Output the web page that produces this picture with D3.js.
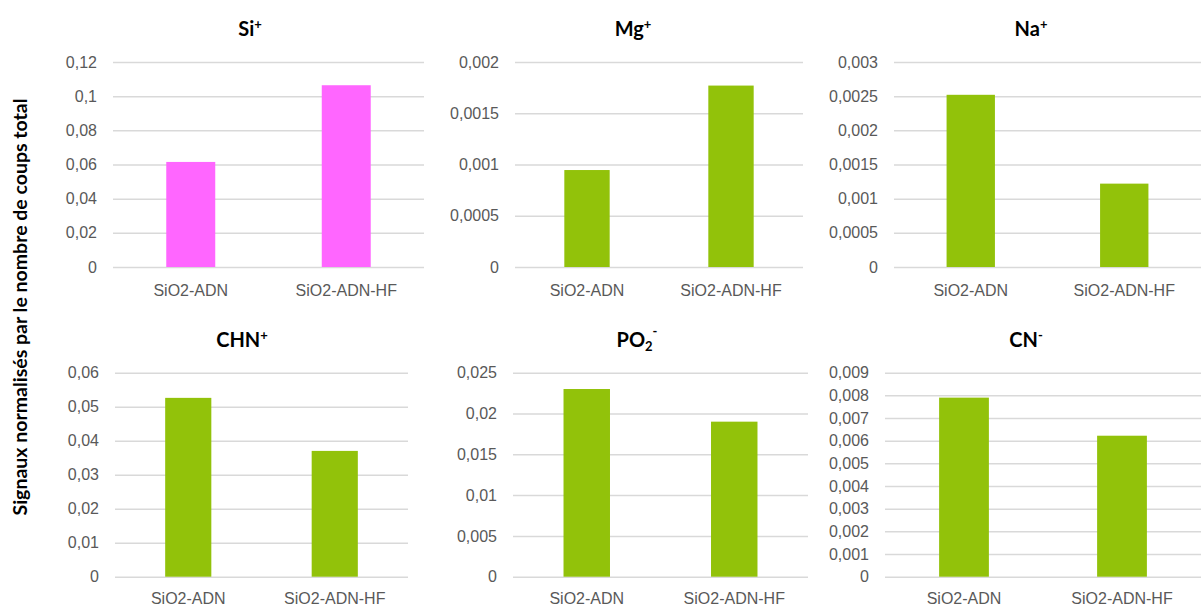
<!DOCTYPE html>
<html>
<head>
<meta charset="utf-8">
<script src="https://cdn.jsdelivr.net/npm/d3@7"></script>
<style>
  html, body { margin: 0; padding: 0; background: #fff; }
  svg { display: block; font-family: Lato, "Open Sans", sans-serif; }
</style>
</head>
<body>
<svg id="chart" width="1203" height="608"></svg>
<script>
// ---- data ----
const categories = ["SiO2-ADN", "SiO2-ADN-HF"];

const siValues  = [0.0615, 0.1064];
const mgValues  = [0.000946, 0.00177];
const naValues  = [0.00252, 0.00122];
const chnValues = [0.0526, 0.0370];
const po2Values = [0.0230, 0.0190];
const cnValues  = [0.00790, 0.00622];

const siTicks  = [0, 0.02, 0.04, 0.06, 0.08, 0.1, 0.12];
const mgTicks  = [0, 0.0005, 0.001, 0.0015, 0.002];
const naTicks  = [0, 0.0005, 0.001, 0.0015, 0.002, 0.0025, 0.003];
const chnTicks = [0, 0.01, 0.02, 0.03, 0.04, 0.05, 0.06];
const po2Ticks = [0, 0.005, 0.01, 0.015, 0.02, 0.025];
const cnTicks  = [0, 0.001, 0.002, 0.003, 0.004, 0.005, 0.006, 0.007, 0.008, 0.009];

const siTickLabels  = ["0", "0,02", "0,04", "0,06", "0,08", "0,1", "0,12"];
const mgTickLabels  = ["0", "0,0005", "0,001", "0,0015", "0,002"];
const naTickLabels  = ["0", "0,0005", "0,001", "0,0015", "0,002", "0,0025", "0,003"];
const chnTickLabels = ["0", "0,01", "0,02", "0,03", "0,04", "0,05", "0,06"];
const po2TickLabels = ["0", "0,005", "0,01", "0,015", "0,02", "0,025"];
const cnTickLabels  = ["0", "0,001", "0,002", "0,003", "0,004", "0,005", "0,006", "0,007", "0,008", "0,009"];

const yAxisTitle = "Signaux normalisés par le nombre de coups total";

// title parts: [text, kind] kind: n=normal, sup, sub
const panels = [
  { title: [["Si","n"],["+","sup"]], values: siValues, ticks: siTicks, labels: siTickLabels, color: "#FF66FF",
    x0: 113, x1: 424, yTop: 62, yBot: 267, tx: 250, ty: 36 },
  { title: [["Mg","n"],["+","sup"]], values: mgValues, ticks: mgTicks, labels: mgTickLabels, color: "#92C20A",
    x0: 515, x1: 803, yTop: 62, yBot: 267, tx: 633, ty: 36 },
  { title: [["Na","n"],["+","sup"]], values: naValues, ticks: naTicks, labels: naTickLabels, color: "#92C20A",
    x0: 894, x1: 1201, yTop: 62, yBot: 267, tx: 1031, ty: 36 },
  { title: [["CHN","n"],["+","sup"]], values: chnValues, ticks: chnTicks, labels: chnTickLabels, color: "#92C20A",
    x0: 115, x1: 408, yTop: 372.7, yBot: 576.7, tx: 242, ty: 347 },
  { title: [["PO","n"],["2","sub"],["-","sup2"]], values: po2Values, ticks: po2Ticks, labels: po2TickLabels, color: "#92C20A",
    x0: 513, x1: 808, yTop: 372.7, yBot: 576.7, tx: 637, ty: 347 },
  { title: [["CN","n"],["-","sup"]], values: cnValues, ticks: cnTicks, labels: cnTickLabels, color: "#92C20A",
    x0: 885, x1: 1201, yTop: 372.7, yBot: 576.7, tx: 1026, ty: 347 }
];

const svg = d3.select("#chart");

panels.forEach((p, pi) => {
  const g = svg.append("g");
  const x = d3.scaleBand().domain(categories).range([p.x0, p.x1])
    .paddingInner(0.685).paddingOuter(0.3425);
  const y = d3.scaleLinear().domain([0, p.ticks[p.ticks.length - 1]]).range([p.yBot, p.yTop]);

  // gridlines + tick labels
  const yAxis = d3.axisLeft(y).tickValues(p.ticks)
    .tickFormat((d, i) => p.labels[i])
    .tickSize(-(p.x1 - p.x0)).tickPadding(16);
  const ag = g.append("g").attr("transform", `translate(${p.x0},0)`).call(yAxis);
  ag.select(".domain").remove();
  ag.selectAll(".tick line").attr("stroke", "#d9d9d9").attr("stroke-width", 1.5);
  ag.selectAll(".tick text").attr("fill", "#595959").attr("font-size", "16px");

  // bars
  g.selectAll("rect.bar").data(p.values).join("rect")
    .attr("class", "bar")
    .attr("x", (d, i) => x(categories[i]))
    .attr("width", x.bandwidth())
    .attr("y", d => y(d))
    .attr("height", d => y(0) - y(d))
    .attr("fill", p.color);

  // category axis
  const xAxis = d3.axisBottom(x).tickSize(0).tickPadding(0);
  const xg = g.append("g").attr("transform", `translate(0,${p.yBot + (pi < 3 ? 29 : 27)})`).call(xAxis);
  xg.select(".domain").remove();
  xg.selectAll(".tick text").attr("fill", "#595959").attr("font-size", "16px")
    .attr("dy", "0").attr("y", 0);

  // title
  const t = g.append("text").attr("x", p.tx).attr("y", p.ty)
    .attr("text-anchor", "middle").attr("font-weight", "bold")
    .attr("font-size", "20px").attr("fill", "#000");
  p.title.forEach(([txt, kind]) => {
    const s = t.append("tspan").text(txt);
    if (kind === "sup") s.attr("font-size", "13px").attr("baseline-shift", "7px");
    if (kind === "sub") s.attr("font-size", "13px").attr("baseline-shift", "-4px");
    if (kind === "sup2") s.attr("font-size", "13px").attr("baseline-shift", "11px");
  });
});

// y axis title
svg.append("text")
  .attr("transform", "translate(27,307) rotate(-90)")
  .attr("text-anchor", "middle")
  .attr("font-weight", "bold")
  .attr("font-size", "19.5px")
  .attr("fill", "#000")
  .text(yAxisTitle);
</script>
</body>
</html>
